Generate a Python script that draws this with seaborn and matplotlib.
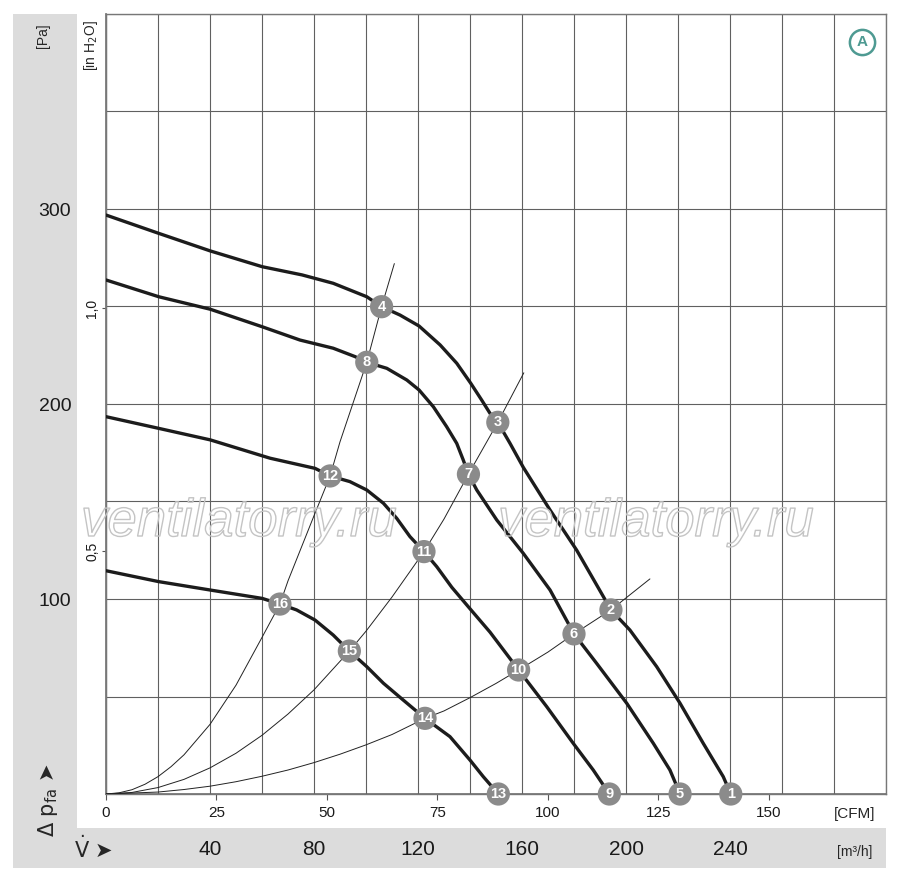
import matplotlib
matplotlib.use('Agg')
import numpy as np
import pandas as pd
import matplotlib.pyplot as plt
import matplotlib.patheffects as pe
from matplotlib.patches import Rectangle
import seaborn as sns

# fan curves: flow in m3/h, static pressure in Pa
q1 = [0, 20.3, 40.1, 60.1, 75.4, 87.4, 100.3, 106, 113.1, 120.4, 128.5, 134.9, 140.3, 144.5, 147.7,
      150.7, 155.4, 160.5, 170.8, 181, 191.3, 194.2, 201.5, 211.8, 220.8, 229.7, 237.4, 240.3]
p1 = [296.9, 287.5, 278.5, 270.4, 266.2, 261.9, 255, 249.9, 245.6, 240, 230.3, 220.9, 210.6, 202, 195.2,
      190.6, 179.8, 167.5, 145.6, 125.1, 101.2, 94.4, 84.1, 65.3, 46.5, 26, 8.9, 0]

q2 = [0, 20.3, 40.1, 60.1, 74.6, 87.4, 95.8, 100.3, 108, 115.7, 120.4, 125.9, 131, 134.9, 137.4,
      139.4, 142.6, 150.3, 160.5, 170.8, 180, 188.7, 200.3, 210.5, 216.9, 220.8]
p2 = [263.6, 255, 248.6, 239.6, 232.8, 228.6, 224.3, 221.4, 218.3, 212.3, 207.2, 198.6, 188.4, 179.8, 171.3,
      164, 155.9, 140.5, 123.4, 104.6, 82.1, 67, 46.5, 26, 12.3, 0]

q3 = [0, 20.3, 40.1, 63.1, 80.4, 86.2, 93.8, 100.3, 106.7, 111.8, 116.9, 122.3, 127.2, 133, 140,
      147.7, 158.7, 169.5, 179.7, 187.4, 193.6]
p3 = [193.5, 187.5, 181.6, 172.2, 167, 163.1, 160.2, 155.9, 149.1, 141.4, 132, 124.3, 116.6, 106, 95,
      83, 63.6, 44.8, 26, 12.3, 0]

q4 = [0, 20.3, 40.1, 60.1, 66.9, 73.3, 80.4, 87.4, 93.6, 100.3, 106.7, 114.3, 122.7, 132.3, 140, 145.1, 150.9]
p4 = [114.5, 108.9, 104.6, 100.3, 97.4, 94.4, 89.2, 81.5, 73.3, 65.3, 56.8, 48.2, 38.8, 29.4, 17.4, 8.9, 0]

# system (resistance) curves
qa = [0, 5, 10, 15, 20, 25, 30, 40, 50, 60, 66.9, 70, 80, 86.2, 90, 100.3, 106, 110.9]
pa = [0, 0.6, 2.2, 5, 8.9, 14, 20.1, 35.7, 55.8, 80.3, 97.4, 109.3, 142.7, 163.1, 180.6, 221.4, 249.9, 272]
qb = [0, 10, 20, 30, 40, 50, 60, 70, 80, 93.6, 100, 110, 122.3, 130, 139.4, 150.7, 160.7]
pb = [0, 0.8, 3.3, 7.5, 13.4, 20.9, 30.1, 41, 53.4, 73.3, 83.5, 101, 124.3, 141, 164, 190.6, 216]
qc = [0, 20, 30, 40, 50, 60, 70, 80, 90, 100, 110, 122.7, 130, 140, 150, 158.7, 170, 180, 194.2, 209.2]
pc = [0, 1, 2.3, 4, 6.3, 9.1, 12.3, 16.1, 20.4, 25.2, 30.5, 38.8, 42.6, 49.4, 56.7, 63.6, 72.8, 82.1, 94.4, 110.3]

# numbered operating points
point_ids = list(range(1, 17))
point_q = [240.3, 194.2, 150.7, 106, 220.8, 180, 139.4, 100.3,
           193.6, 158.7, 122.3, 86.2, 150.9, 122.7, 93.6, 66.9]
point_p = [0, 94.4, 190.6, 249.9, 0, 82.1, 164, 221.4,
           0, 63.6, 124.3, 163.1, 0, 38.8, 73.3, 97.4]

m3h_ticks = [40, 80, 120, 160, 200, 240]
pa_ticks = [100, 200, 300]
cfm_ticks = [0, 25, 50, 75, 100, 125, 150]
inh2o_ticks = [0.5, 1.0]
inh2o_labels = ['0,5', '1,0']

sns.set_theme(style='white')
plt.rcParams['font.family'] = ['Liberation Sans', 'DejaVu Sans']
plt.rcParams['mathtext.fontset'] = 'dejavusans'

fan = pd.concat([pd.DataFrame({'flow': q, 'dp': p, 'curve': i})
                 for i, (q, p) in enumerate([(q1, p1), (q2, p2), (q3, p3), (q4, p4)])])
system = pd.concat([pd.DataFrame({'flow': q, 'dp': p, 'curve': i})
                    for i, (q, p) in enumerate([(qa, pa), (qb, pb), (qc, pc)])])
points = pd.DataFrame({'flow': point_q, 'dp': point_p, 'id': point_ids})

fig = plt.figure(figsize=(9, 8.8), dpi=100)
band = '#dcdcdc'
fig.patches.append(Rectangle((13/900, 12/880), 64/900, 854/880, transform=fig.transFigure,
                             facecolor=band, edgecolor='none', zorder=-1))
fig.patches.append(Rectangle((13/900, 12/880), 873/900, 40/880, transform=fig.transFigure,
                             facecolor=band, edgecolor='none', zorder=-1))

ax = fig.add_axes([106/900, 86/880, 780/900, 780/880])
ax.set_facecolor('white')

sns.lineplot(data=system, x='flow', y='dp', units='curve', estimator=None, sort=False,
             color='#222222', lw=0.7, ax=ax, zorder=3, solid_joinstyle='round')
sns.lineplot(data=fan, x='flow', y='dp', units='curve', estimator=None, sort=False,
             color='#1c1c1c', lw=2.4, ax=ax, zorder=4, solid_joinstyle='round')
sns.scatterplot(data=points, x='flow', y='dp', s=280, color='#8b8b8b', edgecolor='none',
                ax=ax, zorder=5, clip_on=False)
for _, r in points.iterrows():
    ax.text(r['flow'], r['dp'], str(int(r['id'])), ha='center', va='center', color='white',
            fontsize=10.5, fontweight='bold', zorder=6, clip_on=False)

ax.set_xlim(0, 300)
ax.set_ylim(0, 400)
ax.set_xlabel('')
ax.set_ylabel('')

ax.set_xticks(m3h_ticks)
ax.set_xticklabels([str(t) for t in m3h_ticks])
ax.set_yticks(pa_ticks)
ax.set_yticklabels([str(t) for t in pa_ticks])
ax.set_xticks(np.arange(0, 301, 20), minor=True)
ax.set_yticks(np.arange(0, 401, 50), minor=True)
ax.grid(which='both', color='#606060', lw=0.8)
ax.tick_params(axis='x', which='both', length=0, pad=33, labelsize=15, labelcolor='#1a1a1a')
ax.tick_params(axis='y', which='both', length=0, pad=25, labelsize=14, labelcolor='#1a1a1a')
for s in ax.spines.values():
    s.set_color('#777777')
    s.set_linewidth(1)

# CFM scale under the plot
secx = ax.secondary_xaxis('bottom', functions=(lambda q: q / 1.699, lambda c: c * 1.699))
secx.set_xticks(cfm_ticks)
secx.set_xticklabels([str(t) for t in cfm_ticks])
secx.tick_params(length=4.5, width=0.8, color='#555555', pad=4, labelsize=11, labelcolor='#1a1a1a')
secx.spines['bottom'].set_color('#777777')

# in H2O scale on the left
secy = ax.secondary_yaxis('left', functions=(lambda p: p / 249.09, lambda h: h * 249.09))
secy.set_yticks(inh2o_ticks)
secy.set_yticklabels(inh2o_labels, rotation=90, va='center')
secy.tick_params(length=3, width=0.8, color='#555555', pad=2, labelsize=10, labelcolor='#1a1a1a')
secy.spines['left'].set_color('#777777')

fig.text(43/900, 1 - 36/880, '[Pa]', rotation=90, ha='center', va='center', fontsize=10)
fig.text(91/900, 1 - 46/880, '[in H$_2$O]', rotation=90, ha='center', va='center', fontsize=10)
fig.text(48/900, 1 - 800/880, r'$\Delta$ p$_{\mathrm{fa}}$ ➤', rotation=90, ha='center', va='center',
         fontsize=15, family=['DejaVu Sans'])
fig.text(94/900, 1 - 848/880, r'$\dot{\mathrm{V}}$ ➤', ha='center', va='center', fontsize=15,
         family=['DejaVu Sans'])
fig.text(855/900, 1 - 814/880, '[CFM]', ha='center', va='center', fontsize=11)
fig.text(855/900, 1 - 852/880, '[m³/h]', ha='center', va='center', fontsize=10)

# curve family marker
teal = '#4e9a92'
ax.scatter([0.9689], [0.9645], s=330, facecolor='white', edgecolor=teal, linewidth=1.8,
           transform=ax.transAxes, zorder=6, clip_on=False)
ax.text(0.9689, 0.9645, 'A', color=teal, fontsize=11, fontweight='bold', ha='center', va='center',
        transform=ax.transAxes, zorder=7)

# watermark
for xc in [239/900, 656/900]:
    fig.text(xc, 1 - 522/880, 'ventilatorry.ru', ha='center', va='center', fontsize=38,
             fontstyle='italic', color=(1, 1, 1, 0), zorder=3,
             path_effects=[pe.Stroke(linewidth=1.0, foreground='#c4c4c4')])

fig.savefig('out.png', dpi=100)
